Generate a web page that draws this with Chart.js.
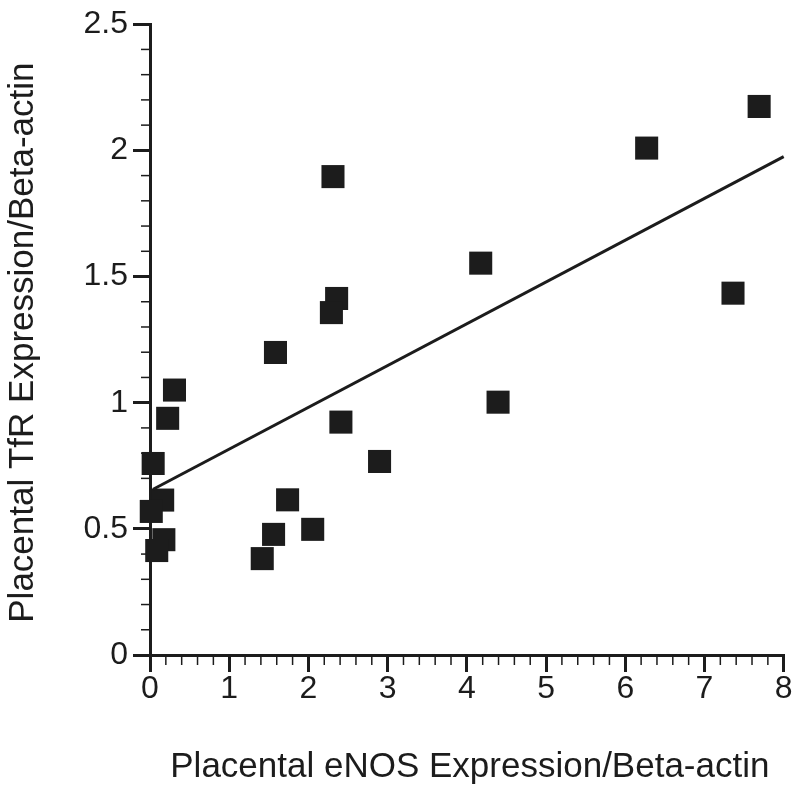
<!DOCTYPE html>
<html>
<head>
<meta charset="utf-8">
<script src="https://cdn.jsdelivr.net/npm/chart.js@4.4.0/dist/chart.umd.min.js"></script>
<style>
  html, body { margin: 0; padding: 0; background: #ffffff; }
  canvas { display: block; }
</style>
</head>
<body>
<canvas id="c" width="800" height="789"></canvas>
<script>
// Data
const eNOS = [7.69, 6.27, 7.36, 4.175, 4.394, 2.31, 2.356, 2.29, 1.584, 2.41, 2.898, 0.309, 0.223, 0.04, 0.16, 0.016, 0.175, 0.085, 1.417, 1.56, 1.737, 2.054];
const TfR  = [2.174, 2.009, 1.434, 1.553, 1.002, 1.896, 1.413, 1.357, 1.199, 0.923, 0.767, 1.050, 0.938, 0.759, 0.614, 0.569, 0.457, 0.414, 0.382, 0.478, 0.615, 0.498];
const fitX = [0.04, 8];
const fitY = [0.657, 1.975];
const xTicks = [0, 1, 2, 3, 4, 5, 6, 7, 8];
const yTicks = [0, 0.5, 1, 1.5, 2, 2.5];
const xTitle = 'Placental eNOS Expression/Beta-actin';
const yTitle = 'Placental TfR Expression/Beta-actin';

const INK = '#1c1c1c';
const FONT = '"Liberation Sans", Arial, Helvetica, sans-serif';

const points = eNOS.map((x, i) => ({ x: x, y: TfR[i] }));
const fitLine = fitX.map((x, i) => ({ x: x, y: fitY[i] }));

const extras = {
  id: 'extras',
  beforeDatasetsDraw(chart) {
    const ctx = chart.ctx;
    const xs = chart.scales.x, ys = chart.scales.y;
    const x0 = xs.getPixelForValue(0), y0 = ys.getPixelForValue(0);
    ctx.save();
    ctx.strokeStyle = INK;
    ctx.lineWidth = 1.5;
    // y minor ticks every 0.1
    for (let i = 0; i <= 25; i++) {
      if (i % 5 === 0) continue;
      const py = ys.getPixelForValue(i / 10);
      ctx.beginPath();
      ctx.moveTo(x0 - 9, py);
      ctx.lineTo(x0, py);
      ctx.stroke();
    }
    // x minor ticks every 0.2
    for (let i = 0; i <= 40; i++) {
      if (i % 5 === 0) continue;
      const px = xs.getPixelForValue(i / 5);
      ctx.beginPath();
      ctx.moveTo(px, y0);
      ctx.lineTo(px, y0 + 10);
      ctx.stroke();
    }
    // axis titles
    ctx.fillStyle = INK;
    ctx.font = '35px ' + FONT;
    ctx.textAlign = 'center';
    ctx.textBaseline = 'alphabetic';
    ctx.fillText(xTitle, (xs.left + xs.right) / 2 + 3, 777);
    ctx.translate(33, (ys.top + ys.bottom) / 2 + 3);
    ctx.rotate(-Math.PI / 2);
    ctx.fillText(yTitle, 0, 0);
    ctx.restore();
  }
};

new Chart(document.getElementById('c'), {
  data: {
    datasets: [
      {
        type: 'scatter',
        data: points,
        clip: false,
        pointStyle: 'rect',
        pointRadius: 16.3,
        pointHoverRadius: 16.3,
        pointBackgroundColor: INK,
        pointBorderWidth: 0,
        borderWidth: 0,
        order: 2
      },
      {
        type: 'line',
        data: fitLine,
        clip: false,
        borderColor: INK,
        borderWidth: 3,
        pointRadius: 0,
        fill: false,
        order: 1
      }
    ]
  },
  options: {
    responsive: false,
    animation: false,
    devicePixelRatio: 1,
    layout: { padding: { top: 21, right: 16, left: 0, bottom: 0 } },
    plugins: { legend: { display: false }, tooltip: { enabled: false } },
    scales: {
      x: {
        type: 'linear',
        position: 'bottom',
        min: 0, max: 8,
        afterBuildTicks: s => { s.ticks = xTicks.map(v => ({ value: v })); },
        ticks: {
          font: { family: FONT, size: 32 },
          color: INK,
          padding: -2,
          maxRotation: 0,
          callback: v => String(v)
        },
        grid: { display: true, drawOnChartArea: false, drawTicks: true, tickLength: 17, lineWidth: 3, color: INK },
        border: { display: true, width: 3, color: INK },
        afterFit: s => { s.height = 134; }
      },
      y: {
        type: 'linear',
        position: 'left',
        min: 0, max: 2.5,
        afterBuildTicks: s => { s.ticks = yTicks.map(v => ({ value: v })); },
        ticks: {
          font: { family: FONT, size: 32 },
          color: INK,
          padding: 5,
          callback: v => String(v)
        },
        grid: { display: true, drawOnChartArea: false, drawTicks: true, tickLength: 17, lineWidth: 3, color: INK },
        border: { display: true, width: 3, color: INK },
        afterFit: s => { s.width = 150; }
      }
    }
  },
  plugins: [extras]
});
</script>
</body>
</html>
